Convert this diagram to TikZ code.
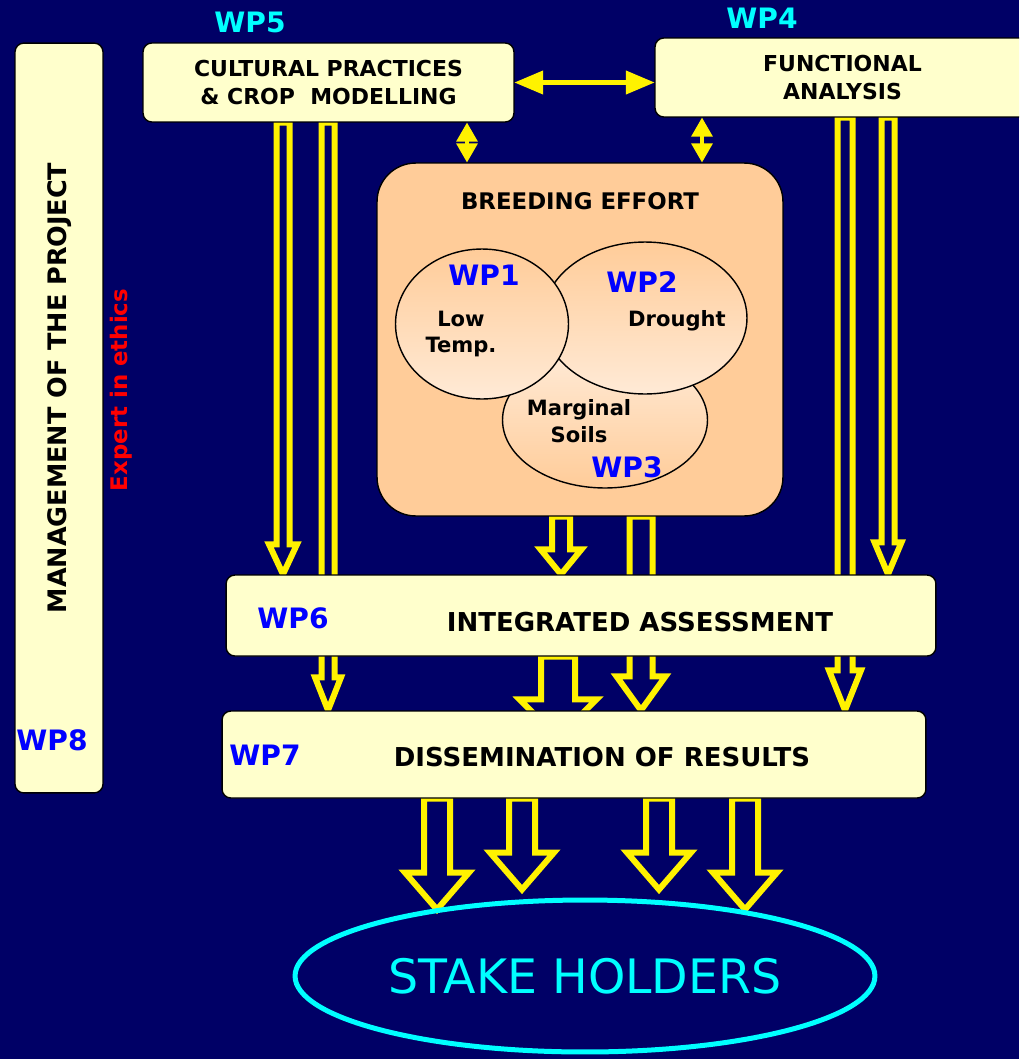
\documentclass[tikz,border=0pt]{standalone}
\usepackage{fontspec}
\setmainfont{DejaVu Sans}
\usepackage{tikz}
\usetikzlibrary{shapes.geometric, arrows, calc}
\definecolor{navy}{RGB}{0,0,102}
\definecolor{cream}{RGB}{255,255,204}
\definecolor{peach}{RGB}{255,204,153}
\definecolor{peachlight}{RGB}{255,234,214}
\definecolor{aqua}{RGB}{0,255,255}
\pgfdeclarelayer{bg}
\pgfdeclarelayer{pipes}
\pgfsetlayers{bg,pipes,main}
\tikzstyle{wpbox} = [rectangle, rounded corners=5pt, draw=black, thick, fill=cream, align=center, inner sep=0pt, font=\bfseries\fontsize{12.5}{15.5}\selectfont]
\tikzstyle{breedbox} = [rectangle, rounded corners=22pt, draw=black, thick, fill=peach, inner sep=0pt]
\tikzstyle{ring} = [ellipse, draw=black, thick, inner sep=0pt]
\tikzstyle{toplabel} = [text=aqua, font=\bfseries\fontsize{16}{18}\selectfont]
\tikzstyle{wplabel} = [text=blue, font=\bfseries\fontsize{16}{18}\selectfont]
\tikzstyle{boxtext} = [align=center, font=\bfseries\fontsize{14.8}{17}\selectfont]
\tikzstyle{ringtext} = [align=center, font=\bfseries\fontsize{12}{15}\selectfont]
\tikzstyle{hollow} = [draw=yellow, fill=navy, line width=1.2mm]
\tikzstyle{dblarrow} = [<->, >=triangle 45, yellow, line width=1mm]
% hollow block arrow: start, tip, shaft half width, head half width, head length
\newcommand{\hollowarrow}[5]{%
  \path (#1) coordinate (ha) (#2) coordinate (hb);
  \draw[hollow] ($(ha)+(-#3,0)$) -- ($(hb)+(-#3,-#5)$) -- ($(hb)+(-#4,-#5)$) -- (hb)
    -- ($(hb)+(#4,-#5)$) -- ($(hb)+(#3,-#5)$) -- ($(ha)+(#3,0)$) -- cycle;}

\begin{document}
\begin{tikzpicture}[x=0.02cm, y=-0.02cm]
\useasboundingbox (0,0) rectangle (1019,1059);
\clip (0,0) rectangle (1019,1059);
\begin{pgfonlayer}{bg}
\fill[navy] (0,0) rectangle (1019,1059);
\end{pgfonlayer}

% management column
\node (wp8) [wpbox, minimum width=1.76cm, minimum height=15cm] at (59,418) {};
\node (mgmt) [boxtext, rotate=90, font=\bfseries\fontsize{14.5}{17}\selectfont] at (60,388) {MANAGEMENT OF THE PROJECT};
\node (wp8lbl) [wplabel] at (52,740) {WP8};
\node (ethics) [text=red, rotate=90, font=\bfseries\fontsize{13}{15}\selectfont] at (121,390) {Expert in ethics};

% top boxes
\node (wp5) [wpbox, minimum width=7.42cm, minimum height=1.58cm] at (328.5,82.5) {CULTURAL PRACTICES\\\& CROP~~MODELLING};
\node (wp5lbl) [toplabel] at (250,22) {WP5};
\node (wp4) [wpbox, minimum width=7.5cm, minimum height=1.58cm] at (842.5,77.5) {FUNCTIONAL\\ANALYSIS};
\node (wp4lbl) [toplabel] at (762,18) {WP4};

% breeding effort
\node (breed) [breedbox, minimum width=8.12cm, minimum height=7.06cm] at (580,339.5) {};
\node (breedtxt) [boxtext, font=\bfseries\fontsize{13}{16}\selectfont] at (580,201) {BREEDING EFFORT};
\node (soils) [ring, top color=peachlight, bottom color=peach, minimum width=4.1cm, minimum height=2.72cm] at (605,420) {};
\node (drought) [ring, top color=peach, bottom color=peachlight, minimum width=4.08cm, minimum height=3.04cm] at (645,318) {};
\node (lowtemp) [ring, top color=peach, bottom color=peachlight, minimum width=3.46cm, minimum height=3cm] at (482,324) {};
\node (wp1lbl) [wplabel] at (484,275) {WP1};
\node (lowtxt) [ringtext] at (461,334) {Low\\Temp.};
\node (wp2lbl) [wplabel] at (642,282) {WP2};
\node (drtxt) [ringtext] at (677,321) {Drought};
\node (soiltxt) [ringtext] at (579,421) {Marginal\\Soils};
\node (wp3lbl) [wplabel] at (627,467) {WP3};

% lower boxes
\node (integ) [wpbox, minimum width=14.2cm, minimum height=1.62cm] at (581,615.5) {};
\node (wp6lbl) [wplabel] at (293,618) {WP6};
\node (integtxt) [boxtext] at (640,622) {INTEGRATED ASSESSMENT};
\node (dissem) [wpbox, minimum width=14.08cm, minimum height=1.74cm] at (574,754.5) {};
\node (wp7lbl) [wplabel] at (265,755) {WP7};
\node (dissemtxt) [boxtext] at (602,757) {DISSEMINATION OF RESULTS};

\node (stake) [ellipse, draw=aqua, line width=1mm, inner sep=0pt, minimum width=11.6cm, minimum height=3.04cm, text=aqua, font=\fontsize{27}{32}\selectfont] at (585,976) {STAKE HOLDERS};

% exchanges
\draw [dblarrow] (wp5.east) -- (wp5.east -| wp4.west);
\draw [dblarrow, >=triangle 60, line width=0.7mm] (467,0 |- wp5.south) -- (467,0 |- breed.north);
\draw [dblarrow, >=triangle 60, line width=0.7mm] (702,0 |- wp4.south) -- (702,0 |- breed.north);

\begin{pgfonlayer}{pipes}
\hollowarrow{283,0 |- wp5.south}{283,0 |- integ.north}{6.5}{14}{30}
\hollowarrow{328,0 |- wp5.south}{328,0 |- dissem.north}{6.5}{13}{33}
\hollowarrow{845,0 |- wp4.south}{845,0 |- dissem.north}{7.5}{16}{40}
\hollowarrow{888,0 |- wp4.south}{888,0 |- integ.north}{6.5}{13.5}{32}
\hollowarrow{561,0 |- breed.south}{561,0 |- integ.north}{9}{20.5}{25}
\hollowarrow{641,0 |- breed.south}{641,0 |- dissem.north}{11.5}{24.5}{34}
\hollowarrow{558,0 |- integ.south}{$(558,0 |- dissem.north)+(0,28)$}{17}{38.5}{39}
\hollowarrow{437,0 |- dissem.south}{$(437,0 |- stake.north)+(0,12)$}{13}{32}{37}
\hollowarrow{522,0 |- dissem.south}{$(522,0 |- stake.north)+(0,-8)$}{13}{32}{37}
\hollowarrow{659,0 |- dissem.south}{$(659,0 |- stake.north)+(0,-8)$}{13}{32}{37}
\hollowarrow{745,0 |- dissem.south}{$(745,0 |- stake.north)+(0,12)$}{13}{32}{37}
\end{pgfonlayer}
\end{tikzpicture}
\end{document}
